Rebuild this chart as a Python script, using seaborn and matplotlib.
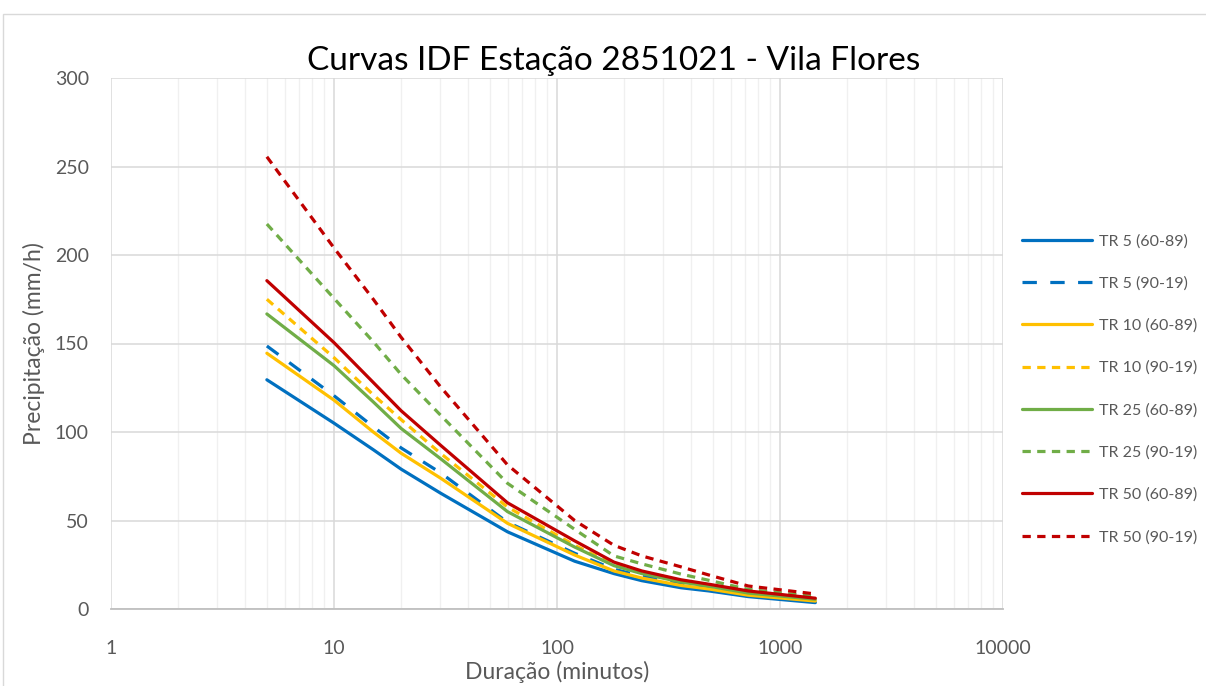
import numpy as np
import pandas as pd
import matplotlib
matplotlib.use("Agg")
import matplotlib.pyplot as plt
from matplotlib.ticker import LogLocator, FixedLocator, FixedFormatter, NullFormatter
from matplotlib.patches import Rectangle
import seaborn as sns

# ---- data ----
durations = [5, 10, 15, 20, 30, 60, 120, 180, 240, 360, 480, 720, 1440]
series_names = ["TR 5 (60-89)", "TR 5 (90-19)", "TR 10 (60-89)", "TR 10 (90-19)",
                "TR 25 (60-89)", "TR 25 (90-19)", "TR 50 (60-89)", "TR 50 (90-19)"]
tr5_6089 = [129.5, 105.0, 90.0, 79.0, 65.5, 43.6, 27.0, 20.0, 16.0, 12.0, 10.2, 7.0, 3.6]
tr5_9019 = [148.6, 120.5, 103.0, 91.0, 77.0, 49.0, 31.5, 22.5, 18.5, 14.0, 11.8, 8.2, 4.8]
tr10_6089 = [144.5, 118.0, 100.0, 88.0, 74.0, 48.4, 30.5, 21.5, 17.5, 13.3, 11.3, 7.8, 4.5]
tr10_9019 = [175.0, 142.0, 121.0, 107.0, 88.0, 57.6, 36.0, 25.0, 20.5, 15.8, 13.5, 9.5, 5.8]
tr25_6089 = [166.7, 137.5, 117.0, 102.0, 85.0, 55.0, 35.0, 24.5, 20.0, 15.2, 12.9, 9.0, 5.5]
tr25_9019 = [217.5, 175.5, 151.0, 132.5, 109.6, 71.0, 45.0, 30.0, 25.5, 19.7, 16.2, 11.1, 7.0]
tr50_6089 = [185.5, 150.5, 128.0, 112.0, 92.6, 60.0, 38.5, 26.5, 21.5, 16.5, 14.0, 10.2, 6.1]
tr50_9019 = [255.5, 204.0, 175.0, 153.5, 125.6, 81.4, 50.0, 36.0, 30.0, 23.8, 19.2, 13.0, 8.5]
all_values = [tr5_6089, tr5_9019, tr10_6089, tr10_9019, tr25_6089, tr25_9019, tr50_6089, tr50_9019]

x_ticks = [1, 10, 100, 1000, 10000]
x_tick_labels = ["1", "10", "100", "1000", "10000"]
y_ticks = [0, 50, 100, 150, 200, 250, 300]

# ---- styles ----
blue, yellow, green, red = "#0070C0", "#FFC000", "#70AD47", "#C00000"
palette = {series_names[0]: blue, series_names[1]: blue,
           series_names[2]: yellow, series_names[3]: yellow,
           series_names[4]: green, series_names[5]: green,
           series_names[6]: red, series_names[7]: red}
dashes = {series_names[0]: "", series_names[1]: (4.5, 4.2),
          series_names[2]: "", series_names[3]: (2.6, 2.0),
          series_names[4]: "", series_names[5]: (2.6, 2.0),
          series_names[6]: "", series_names[7]: (2.6, 2.0)}

rows = []
for name, vals in zip(series_names, all_values):
    for d, v in zip(durations, vals):
        rows.append({"dur": d, "val": v, "serie": name})
df = pd.DataFrame(rows)

sns.set_theme(style="white")
plt.rcParams["font.family"] = ["Lato", "DejaVu Sans"]

fig = plt.figure(figsize=(12.06, 6.86), dpi=100)
ax = fig.add_axes([111 / 1206, (686 - 609) / 686, 892 / 1206, 531 / 686])

sns.lineplot(data=df, x="dur", y="val", hue="serie", style="serie",
             palette=palette, dashes=dashes, hue_order=series_names,
             style_order=series_names, estimator=None, sort=False,
             linewidth=2.3, ax=ax)

ax.set_xscale("log")
ax.set_xlim(1, 10000)
ax.set_ylim(0, 300)
ax.xaxis.set_major_locator(FixedLocator(x_ticks))
ax.xaxis.set_major_formatter(FixedFormatter(x_tick_labels))
ax.xaxis.set_minor_locator(LogLocator(base=10, subs=range(2, 10), numticks=20))
ax.xaxis.set_minor_formatter(NullFormatter())
ax.set_yticks(y_ticks)

ax.grid(which="major", axis="both", color="#D9D9D9", linewidth=1.1)
ax.grid(which="minor", axis="x", color="#F0F0F0", linewidth=1.0)
ax.set_axisbelow(True)
for s in ["top", "right", "left"]:
    ax.spines[s].set_visible(False)
ax.spines["bottom"].set_color("#BFBFBF")
ax.spines["bottom"].set_linewidth(1.3)

ax.tick_params(axis="both", which="both", length=0, labelsize=14, colors="#595959")
ax.tick_params(axis="x", pad=22)
ax.tick_params(axis="y", pad=16)

ax.set_xlabel("Duração (minutos)", fontsize=16.5, color="#595959", labelpad=3)
ax.set_ylabel("Precipitação (mm/h)", fontsize=16.5, color="#595959", labelpad=7)
fig.text(614 / 1206, 1 - 61 / 686, "Curvas IDF Estação 2851021 - Vila Flores",
         ha="center", va="center", fontsize=24, color="#000000")

handles, labels = ax.get_legend_handles_labels()
leg = ax.legend(handles, labels, loc="center left", bbox_to_anchor=(1.005, 0.414),
                frameon=False, fontsize=11.5, labelspacing=1.75, handlelength=4.4,
                handletextpad=0.45, borderaxespad=0.5)
for t in leg.get_texts():
    t.set_color("#595959")
for h in leg.get_lines():
    h.set_linewidth(2.3)

fig.patches.append(Rectangle((3 / 1206, -0.2), 1.5, 1 - 14 / 686 + 0.2,
                             transform=fig.transFigure, fill=False,
                             edgecolor="#D9D9D9", linewidth=1.0))

fig.savefig("out.png", dpi=100)
